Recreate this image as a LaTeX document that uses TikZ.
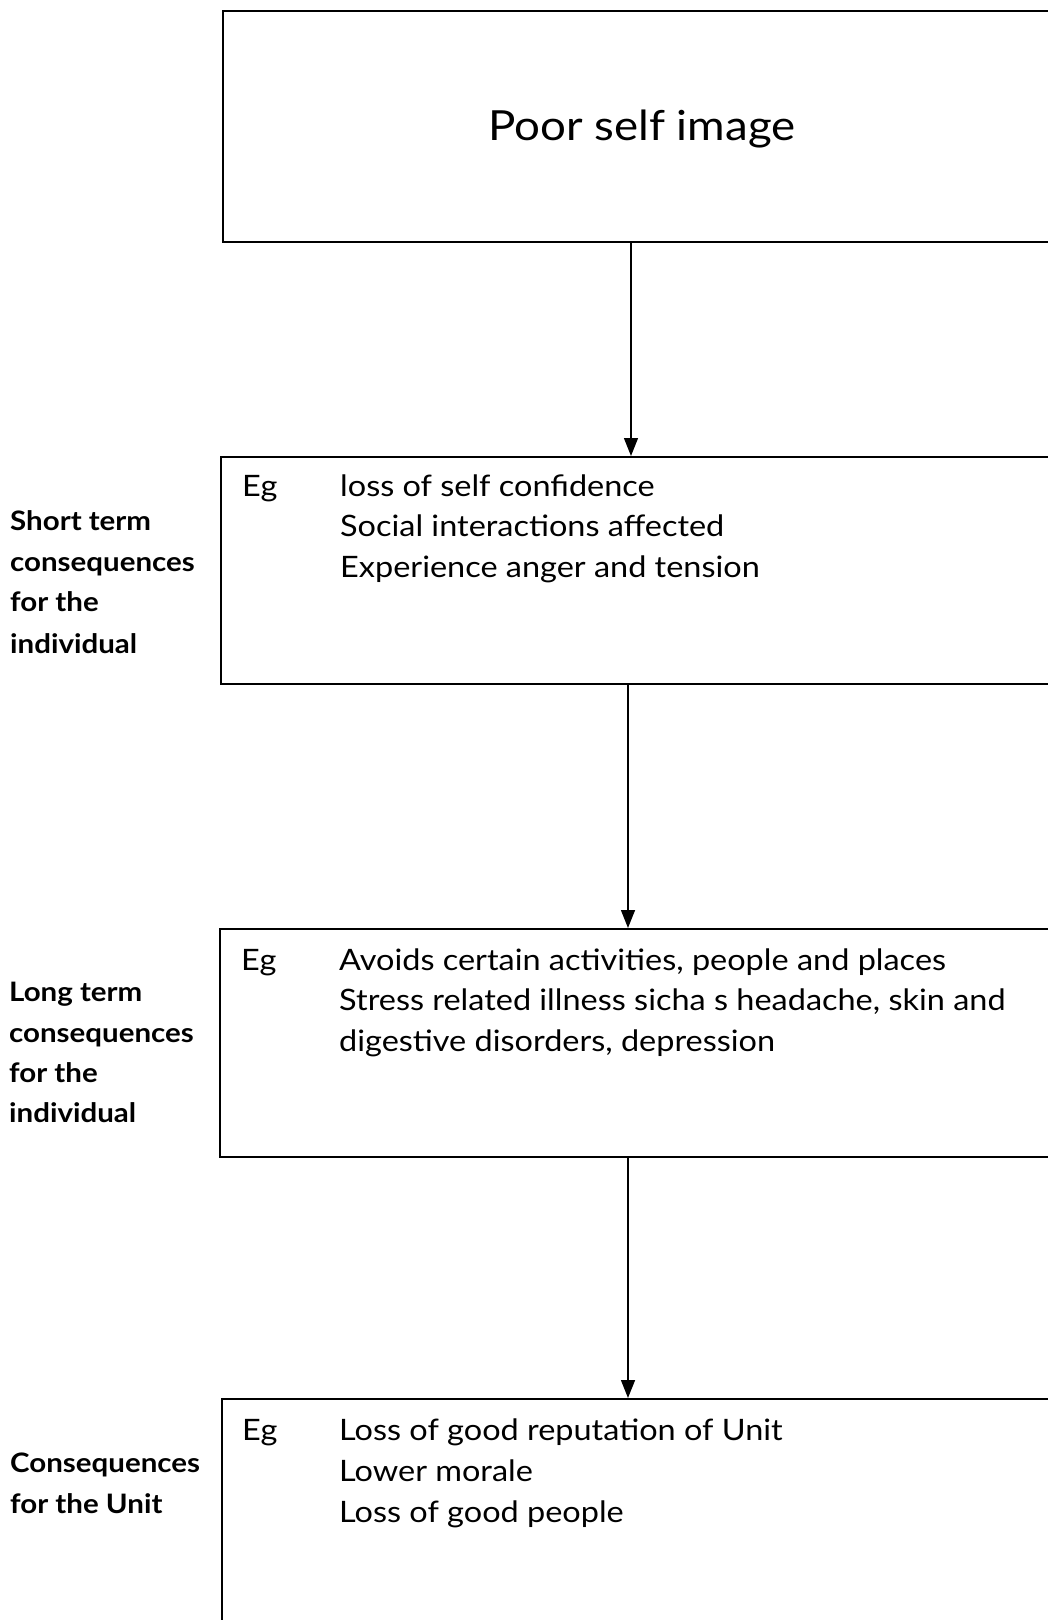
\documentclass[tikz,border=0pt]{standalone}
\usepackage{fontspec}
\setmainfont[FakeStretch=1.1]{Lato}
\usetikzlibrary{arrows.meta}
\tikzset{
  box/.style={draw, line width=2.2pt, anchor=north west, inner sep=0pt},
  arr/.style={line width=1.4pt, -{Triangle[length=18pt,width=14pt]}},
  body/.style={anchor=base west, inner sep=0pt, font=\fontsize{29.5}{34}\selectfont},
  lab/.style={anchor=base west, inner sep=0pt, font=\fontsize{26.8}{31}\selectfont\bfseries},
  title/.style={anchor=base, inner sep=0pt, font=\fontsize{41.5}{46}\selectfont}
}
\begin{document}
\begin{tikzpicture}[x=1pt,y=-1pt]
\useasboundingbox (0,0) rectangle (1048,1620);
\clip (0,0) rectangle (1048,1620);
\fill[white] (0,0) rectangle (1048,1620);
% boxes
\node[box, minimum width=850pt, minimum height=231pt] (b1) at (222,9.5) {};
\node[box, minimum width=850pt, minimum height=227pt] (b2) at (220,456) {};
\node[box, minimum width=850pt, minimum height=228pt] (b3) at (219,928) {};
\node[box, minimum width=850pt, minimum height=240pt] (b4) at (221,1398) {};
% title
\node[title] (t1) at (642,140) {Poor self image};
% arrows
\coordinate (ax1) at (631,0);
\coordinate (ax2) at (628,0);
\draw[arr] (b1.south -| ax1) -- (b2.north -| ax1);
\draw[arr] (b2.south -| ax2) -- (b3.north -| ax2);
\draw[arr] (b3.south -| ax2) -- (b4.north -| ax2);
% box 2
\node[body] (e2) at (242,496) {Eg};
\node[body] (e2a) at (340,496) {loss of self confidence};
\node[body] (e2b) at (340,536) {Social interactions affected};
\node[body] (e2c) at (340,577) {Experience anger and tension};
\node[lab] (l2a) at (10,530) {Short term};
\node[lab] (l2b) at (10,571) {consequences};
\node[lab] (l2c) at (10,611) {for the};
\node[lab] (l2d) at (10,653) {individual};
% box 3
\node[body] (e3) at (241,970) {Eg};
\node[body] (e3a) at (339,970) {Avoids certain activities, people and places};
\node[body] (e3b) at (339,1010) {Stress related illness sicha s headache, skin and};
\node[body] (e3c) at (339,1051) {digestive disorders, depression};
\node[lab] (l3a) at (9,1001) {Long term};
\node[lab] (l3b) at (9,1042) {consequences};
\node[lab] (l3c) at (9,1082) {for the};
\node[lab] (l3d) at (9,1122) {individual};
% box 4
\node[body] (e4) at (242,1440) {Eg};
\node[body] (e4a) at (339,1440) {Loss of good reputation of Unit};
\node[body] (e4b) at (339,1481) {Lower morale};
\node[body] (e4c) at (339,1522) {Loss of good people};
\node[lab] (l4a) at (10,1472) {Consequences};
\node[lab] (l4b) at (10,1513) {for the Unit};
\end{tikzpicture}
\end{document}
